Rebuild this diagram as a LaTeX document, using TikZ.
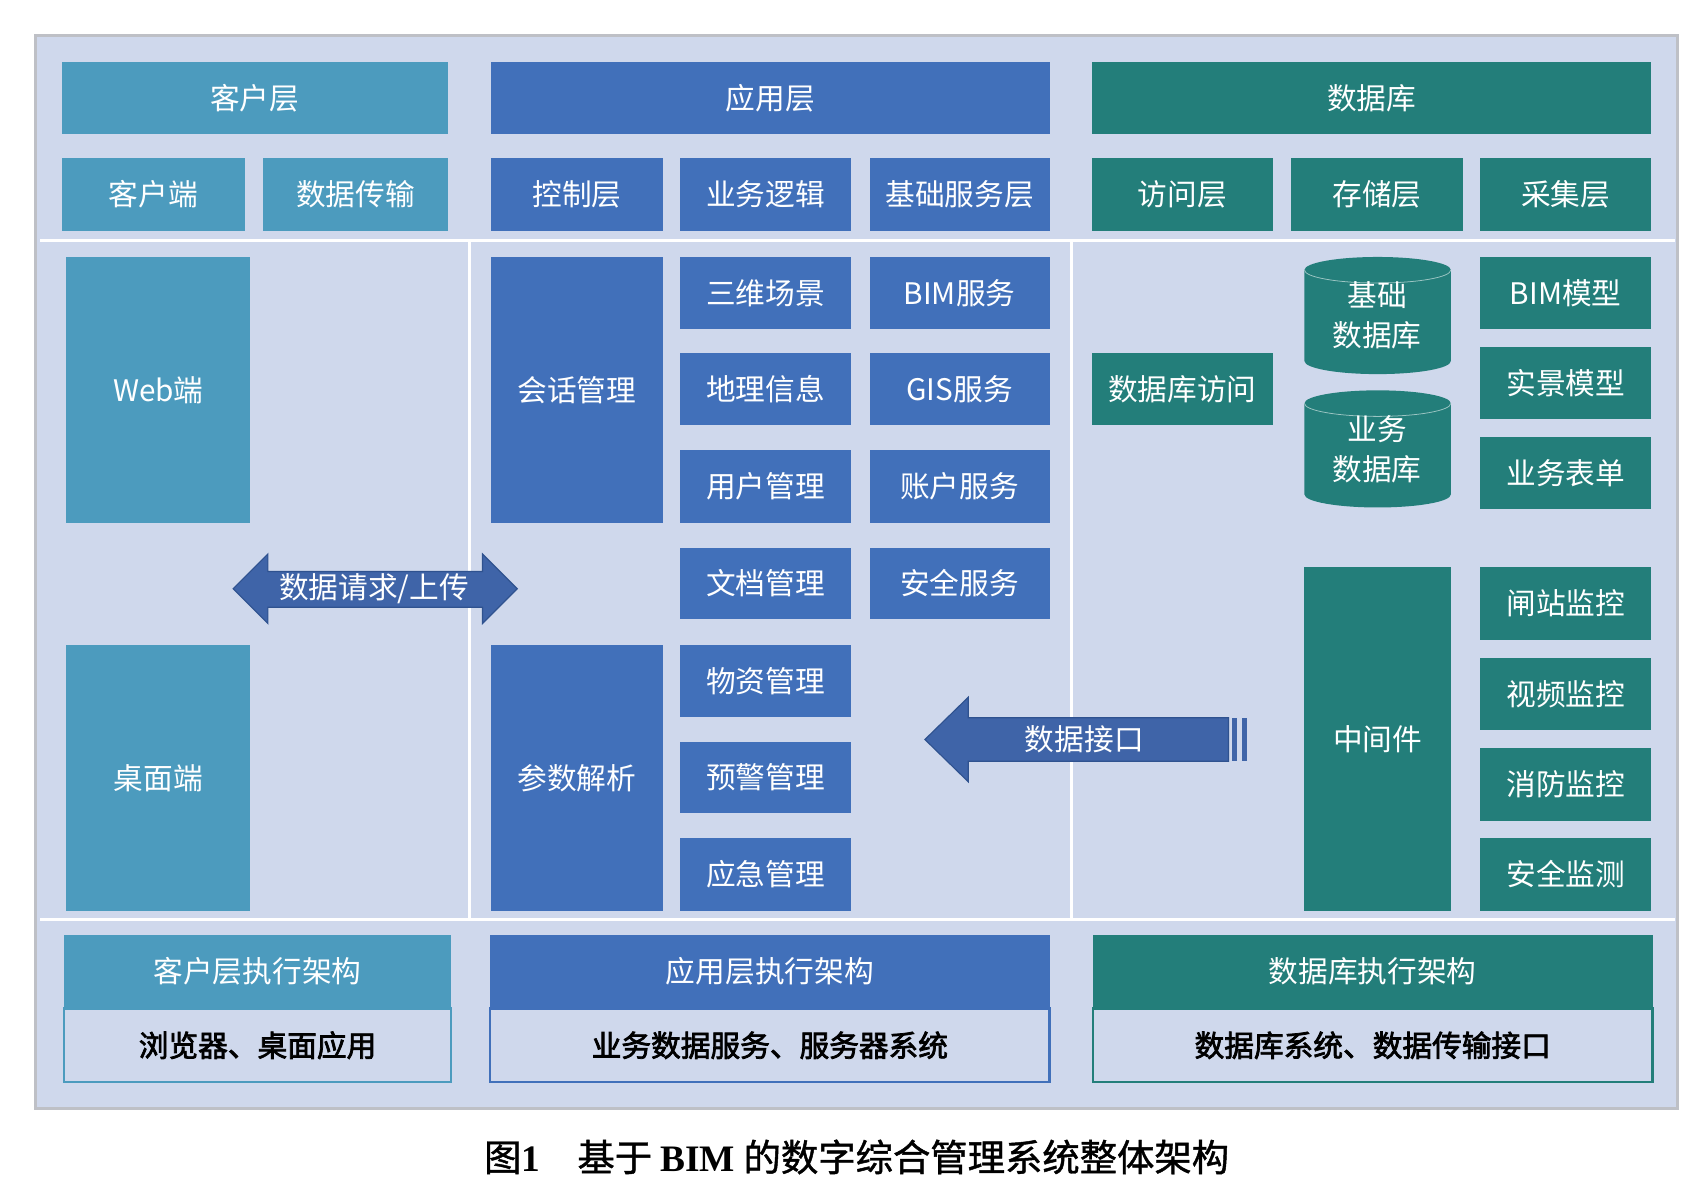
\documentclass[tikz,border=0pt]{standalone}
\usepackage{fontspec}
\setmainfont{Noto Sans CJK SC}
\newfontfamily\heavyfont{Noto Sans CJK SC}[FakeBold=2.5]
\newfontfamily\capcjk{Noto Sans CJK SC}[FakeBold=1.2]
\newfontfamily\capfont{Liberation Serif}
\newcommand{\boxfont}{\fontsize{15.5}{21}\selectfont}

\definecolor{kcol}{RGB}{76,155,190}
\definecolor{acol}{RGB}{65,112,186}
\definecolor{dcol}{RGB}{35,126,122}
\definecolor{bgcol}{RGB}{207,216,236}
\definecolor{frmcol}{RGB}{190,192,198}
\definecolor{arrcol}{RGB}{63,100,168}
\definecolor{arrline}{RGB}{47,82,143}

\tikzset{
  blk/.style 2 args={minimum width=#1*0.0199cm, minimum height=#2*0.0199cm,
    anchor=north west, inner sep=0pt, outer sep=0pt, text=white, font=\boxfont},
  kbox/.style={fill=kcol},
  abox/.style={fill=acol},
  dbox/.style={fill=dcol},
  body/.style={fill=bgcol, draw=#1, line width=1.2pt, text=black, font=\boxfont\heavyfont},
  sep/.style={draw=white, line width=0.06cm},
}

\begin{document}
\begin{tikzpicture}[x=0.0199cm, y=-0.0199cm]
\useasboundingbox (0,0) rectangle (1567.8,1108.5);

\draw[draw=frmcol, fill=bgcol, line width=0.05cm] (33,33) rectangle (1547,1022);

% separators
\draw[sep] (37,222) -- (1545,222);
\draw[sep] (37,848) -- (1545,848);
\draw[sep] (433,222) -- (433,848);
\draw[sep] (988,222) -- (988,848);

% header rows
\node[kbox, blk={356}{67}] (khc) at (57,57) {客户层};
\node[abox, blk={515}{67}] (yyc) at (453,57) {应用层};
\node[dbox, blk={516}{67}] (sjk) at (1007,57) {数据库};

\node[kbox, blk={169}{67}] (khd) at (57,146) {客户端};
\node[kbox, blk={170}{67}] (sjcs) at (243,146) {数据传输};
\node[abox, blk={158}{67}] (kzc) at (453,146) {控制层};
\node[abox, blk={158}{67}] (ywlj) at (627,146) {业务逻辑};
\node[abox, blk={166}{67}] (jcfw) at (802,146) {基础服务层};
\node[dbox, blk={167}{67}] (fwc) at (1007,146) {访问层};
\node[dbox, blk={158}{67}] (ccc) at (1191,146) {存储层};
\node[dbox, blk={158}{67}] (cjc) at (1365,146) {采集层};

% client column
\node[kbox, blk={170}{245}] (web) at (61,237) {Web端};
\node[kbox, blk={170}{245}] (zmd) at (61,595) {桌面端};

% application column
\node[abox, blk={158}{245}] (hhgl) at (453,237) {会话管理};
\node[abox, blk={158}{245}] (cssx) at (453,595) {参数解析};

\node[abox, blk={158}{66}] (swcj) at (627,237) {三维场景};
\node[abox, blk={158}{66}] (dlxx) at (627,326) {地理信息};
\node[abox, blk={158}{67}] (yhgl) at (627,415) {用户管理};
\node[abox, blk={158}{66}] (wdgl) at (627,505) {文档管理};
\node[abox, blk={158}{66}] (wzgl) at (627,595) {物资管理};
\node[abox, blk={158}{66}] (yjgl) at (627,684) {预警管理};
\node[abox, blk={158}{67}] (yjgl2) at (627,773) {应急管理};

\node[abox, blk={166}{66}] (bimfw) at (802,237) {BIM服务};
\node[abox, blk={166}{66}] (gisfw) at (802,326) {GIS服务};
\node[abox, blk={166}{67}] (zhfw) at (802,415) {账户服务};
\node[abox, blk={166}{66}] (aqfw) at (802,505) {安全服务};

% database column
\node[dbox, blk={167}{66}] (sjkfw) at (1007,326) {数据库访问};

\path[fill=dcol] (1203,249) -- (1203,333)
  arc[start angle=180, end angle=360, x radius=1.343cm, y radius=0.239cm]
  -- (1338,249)
  arc[start angle=0, end angle=180, x radius=1.343cm, y radius=0.239cm] -- cycle;
\draw[draw=dcol!45!white, line width=0.4pt] (1203,249)
  arc[start angle=180, end angle=360, x radius=1.343cm, y radius=0.239cm];
\node[text=white, font=\boxfont, align=center] (jcsjk) at (1270,291) {基础\\数据库};

\path[fill=dcol] (1203,372) -- (1203,456)
  arc[start angle=180, end angle=360, x radius=1.343cm, y radius=0.239cm]
  -- (1338,372)
  arc[start angle=0, end angle=180, x radius=1.343cm, y radius=0.239cm] -- cycle;
\draw[draw=dcol!45!white, line width=0.4pt] (1203,372)
  arc[start angle=180, end angle=360, x radius=1.343cm, y radius=0.239cm];
\node[text=white, font=\boxfont, align=center] (ywsjk) at (1270,414) {业务\\数据库};

\node[dbox, blk={158}{66}] (bimmx) at (1365,237) {BIM模型};
\node[dbox, blk={158}{66}] (sjmx) at (1365,320) {实景模型};
\node[dbox, blk={158}{66}] (ywbd) at (1365,403) {业务表单};
\node[dbox, blk={135}{317}] (zjj) at (1203,523) {中间件};
\node[dbox, blk={158}{67}] (zzjk) at (1365,523) {闸站监控};
\node[dbox, blk={158}{66}] (spjk) at (1365,607) {视频监控};
\node[dbox, blk={158}{67}] (xfjk) at (1365,690) {消防监控};
\node[dbox, blk={158}{67}] (aqjc) at (1365,773) {安全监测};

% arrows
\draw[fill=arrcol, draw=arrline, line width=0.6pt]
  (215,543) -- (247,511) -- (247,527) -- (445,527) -- (445,511) -- (477,543)
  -- (445,575) -- (445,560) -- (247,560) -- (247,575) -- cycle;
\node[text=white, font=\boxfont] (sjqq) at (345,543) {数据请求/上传};

\draw[fill=arrcol, draw=arrline, line width=0.6pt]
  (853,682) -- (893,643) -- (893,662) -- (1133,662) -- (1133,702)
  -- (893,702) -- (893,721) -- cycle;
\fill[arrcol] (1136,662) rectangle (1141,702);
\fill[arrcol] (1145,662) rectangle (1150,702);
\node[text=white, font=\boxfont] (sjjk) at (1000,682) {数据接口};

% execution rows
\node[kbox, blk={357}{68}] (khzx) at (59,862) {客户层执行架构};
\node[abox, blk={516}{68}] (yyzx) at (452,862) {应用层执行架构};
\node[dbox, blk={516}{68}] (sjzx) at (1008,862) {数据库执行架构};
\node[blk={357}{68}, body=kcol] (khxt) at (59,930) {浏览器、桌面应用};
\node[blk={516}{68}, body=acol] (yyxt) at (452,930) {业务数据服务、服务器系统};
\node[blk={516}{68}, body=dcol] (sjxt) at (1008,930) {数据库系统、数据传输接口};

% caption
\node[font=\fontsize{19.5}{24}\selectfont\capcjk] (cap) at (790,1067)
  {图{\capfont\bfseries 1}\quad 基于 {\capfont\bfseries BIM} 的数字综合管理系统整体架构};

\end{tikzpicture}
\end{document}
